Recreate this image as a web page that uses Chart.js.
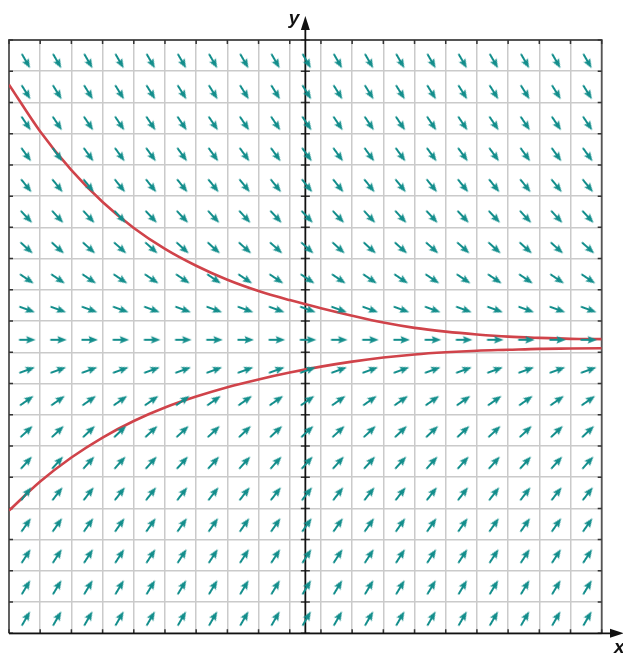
<!DOCTYPE html>
<html>
<head>
<meta charset="utf-8">
<script src="https://cdn.jsdelivr.net/npm/chart.js@4/dist/chart.umd.min.js"></script>
<style>
  html, body { margin: 0; padding: 0; background: #fff; }
  #wrap { width: 623px; height: 653px; position: relative; }
</style>
</head>
<body>
<div id="wrap"><canvas id="field"></canvas></div>
<script>
// grid lines (cell units, y-axis at x = 0, x-axis at y = 0)
const xGrid = [-9.5, -8.5, -7.5, -6.5, -5.5, -4.5, -3.5, -2.5, -1.5, -0.5,
               0.5, 1.5, 2.5, 3.5, 4.5, 5.5, 6.5, 7.5, 8.5, 9.5];
const yGrid = [0, 1, 2, 3, 4, 5, 6, 7, 8, 9, 10, 11, 12, 13, 14, 15, 16, 17, 18, 19];

// where the little arrows sit
const arrowX = [-9, -8, -7, -6, -5, -4, -3, -2, -1, 0, 1, 2, 3, 4, 5, 6, 7, 8, 9];
const arrowY = [0.4, 1.4, 2.4, 3.4, 4.4, 5.4, 6.4, 7.4, 8.4, 9.4,
                10.4, 11.4, 12.4, 13.4, 14.4, 15.4, 16.4, 17.4, 18.4];
// arrow angle (degrees) for each row above, bottom to top
const rowAngle = [60, 59, 57, 55, 52, 48, 43, 35, 20, 0,
                  -20, -34, -42, -47, -51, -54, -56, -58, -60];

// solution curves, one value per grid column
const curveX = [-9.5, -8.5, -7.5, -6.5, -5.5, -4.5, -3.5, -2.5, -1.5, -0.5,
                0.5, 1.5, 2.5, 3.5, 4.5, 5.5, 6.5, 7.5, 8.5, 9.5];
const upperY = [17.57, 16.07, 14.83, 13.81, 12.98, 12.31, 11.77, 11.32, 10.96, 10.67,
                10.41, 10.17, 9.95, 9.78, 9.66, 9.57, 9.5, 9.46, 9.43, 9.42];
const lowerY = [3.93, 4.86, 5.63, 6.27, 6.8, 7.23, 7.58, 7.88, 8.13, 8.35,
                8.54, 8.7, 8.83, 8.93, 9.0, 9.05, 9.08, 9.11, 9.12, 9.13];

const teal = '#138e8c';
const red = '#d0434a';

// arrow glyph, pointing right, drawn a bit ahead of its anchor
function makeArrow() {
    const c = document.createElement('canvas');
    c.width = 32; c.height = 32;
    const g = c.getContext('2d');
    g.strokeStyle = teal;
    g.fillStyle = teal;
    g.lineWidth = 2;
    g.beginPath();
    g.moveTo(10.5, 16);
    g.lineTo(20, 16);
    g.stroke();
    g.beginPath();
    g.moveTo(27, 16);
    g.lineTo(17.5, 12.2);
    g.lineTo(19.3, 16);
    g.lineTo(17.5, 19.8);
    g.closePath();
    g.fill();
    return c;
}

const arrowPts = [];
arrowY.forEach((y, i) => {
    arrowX.forEach(x => arrowPts.push({ x: x, y: y, a: rowAngle[i] }));
});

const zip = (xs, ys) => xs.map((x, i) => ({ x: x, y: ys[i] }));

const frame = {
    id: 'frame',
    beforeDatasetsDraw(chart) {
        const { ctx, chartArea: a, scales: { x, y } } = chart;
        const x0 = x.getPixelForValue(0);
        ctx.save();
        // frame
        ctx.strokeStyle = '#555';
        ctx.lineWidth = 1.8;
        ctx.beginPath();
        ctx.moveTo(a.left, a.bottom);
        ctx.lineTo(a.left, a.top);
        ctx.lineTo(a.right, a.top);
        ctx.lineTo(a.right, a.bottom);
        ctx.stroke();
        // tick marks
        ctx.strokeStyle = '#333';
        ctx.lineWidth = 1.5;
        ctx.beginPath();
        xGrid.forEach(v => {
            const px = x.getPixelForValue(v);
            ctx.moveTo(px, a.top); ctx.lineTo(px, a.top + 4);
            ctx.moveTo(px, a.bottom); ctx.lineTo(px, a.bottom - 4);
        });
        yGrid.forEach(v => {
            const py = y.getPixelForValue(v);
            ctx.moveTo(a.left, py); ctx.lineTo(a.left + 4, py);
            ctx.moveTo(a.right, py); ctx.lineTo(a.right - 4, py);
            ctx.moveTo(x0 - 4.5, py); ctx.lineTo(x0 + 4.5, py);
        });
        ctx.stroke();
        // axes
        ctx.strokeStyle = '#111';
        ctx.fillStyle = '#111';
        ctx.lineWidth = 1.8;
        ctx.beginPath();
        ctx.moveTo(x0, a.bottom);
        ctx.lineTo(x0, 28);
        ctx.moveTo(a.left, a.bottom);
        ctx.lineTo(612, a.bottom);
        ctx.stroke();
        ctx.beginPath();
        ctx.moveTo(x0, 16); ctx.lineTo(x0 - 4.5, 30); ctx.lineTo(x0 + 4.5, 30); ctx.closePath();
        ctx.fill();
        ctx.beginPath();
        ctx.moveTo(624, a.bottom); ctx.lineTo(610, a.bottom - 4.5); ctx.lineTo(610, a.bottom + 4.5); ctx.closePath();
        ctx.fill();
        // axis names
        ctx.font = 'italic bold 19px "Liberation Sans", sans-serif';
        ctx.textBaseline = 'middle';
        ctx.textAlign = 'right';
        ctx.fillText('y', x0 - 6, 19);
        ctx.textAlign = 'left';
        ctx.fillText('x', 614, a.bottom + 14);
        ctx.restore();
    }
};

new Chart(document.getElementById('field'), {
    type: 'scatter',
    data: {
        datasets: [
            {
                data: arrowPts,
                pointStyle: makeArrow(),
                pointRadius: 3,
                rotation: ctx => -ctx.raw.a
            },
            {
                data: zip(curveX, upperY),
                showLine: true,
                borderColor: red,
                borderWidth: 2.6,
                pointRadius: 0,
                cubicInterpolationMode: 'monotone'
            },
            {
                data: zip(curveX, lowerY),
                showLine: true,
                borderColor: red,
                borderWidth: 2.6,
                pointRadius: 0,
                cubicInterpolationMode: 'monotone'
            }
        ]
    },
    options: {
        responsive: true,
        maintainAspectRatio: false,
        animation: false,
        layout: { padding: { left: 9, top: 40, right: 21.3, bottom: 19.7 } },
        plugins: { legend: { display: false }, tooltip: { enabled: false } },
        scales: {
            x: {
                type: 'linear', min: -9.5, max: 9.5,
                afterBuildTicks: axis => { axis.ticks = xGrid.map(v => ({ value: v })); },
                ticks: { display: false },
                grid: { color: '#cacaca', lineWidth: 1.5, drawTicks: false },
                border: { display: false }
            },
            y: {
                type: 'linear', min: 0, max: 19,
                afterBuildTicks: axis => { axis.ticks = yGrid.map(v => ({ value: v })); },
                ticks: { display: false },
                grid: { color: '#cacaca', lineWidth: 1.5, drawTicks: false },
                border: { display: false }
            }
        }
    },
    plugins: [frame]
});
</script>
</body>
</html>
